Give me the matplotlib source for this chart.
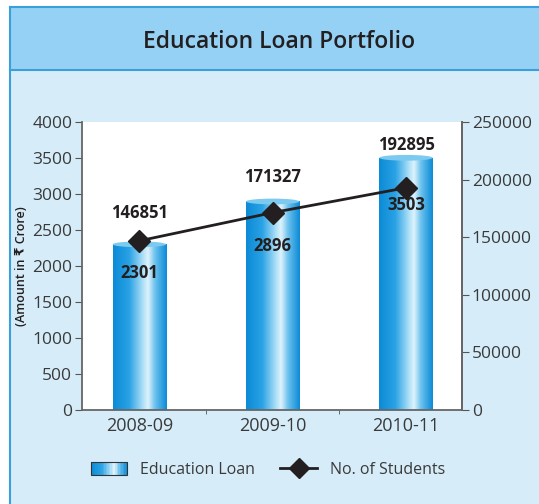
import matplotlib
matplotlib.use("Agg")
import matplotlib.pyplot as plt
import numpy as np
from matplotlib.colors import LinearSegmentedColormap
from matplotlib.patches import Rectangle, Ellipse
from matplotlib.lines import Line2D
from matplotlib.legend_handler import HandlerBase

plt.rcParams['font.family'] = ['Open Sans', 'DejaVu Sans']

# data
years = ['2008-09', '2009-10', '2010-11']
loan_amount = [2301, 2896, 3503]          # Rs crore
students = [146851, 171327, 192895]

# label offsets in points (bar label below top, line label above marker)
bar_lbl_off = [-21, -32, -34]
line_lbl_off = [20, 26, 31]

bg = '#d6edf9'
band = '#94d1f4'
edge = '#3b9fdc'
cyl = LinearSegmentedColormap.from_list('cyl', [
    (0.0, '#0b8ad6'), (0.3, '#2aa2e5'), (0.55, '#a9def7'),
    (0.65, '#dff3fc'), (0.78, '#6cc2ee'), (1.0, '#0b8ad6')])

fig = plt.figure(figsize=(5.39, 5.04), dpi=100)
fig.patch.set_facecolor('white')

# panel background and title band
fig.patches.append(Rectangle((10/539, 0), 1, 497/504, transform=fig.transFigure,
                             facecolor=bg, edgecolor='none', zorder=-3))
fig.patches.append(Rectangle((10/539, 434/504), 1, 63/504, transform=fig.transFigure,
                             facecolor=band, edgecolor='none', zorder=-2))
fig.add_artist(Line2D([10/539, 10/539], [0, 497/504], color=edge, lw=1.5, transform=fig.transFigure))
fig.add_artist(Line2D([10/539, 1], [497/504, 497/504], color=edge, lw=1.5, transform=fig.transFigure))
fig.add_artist(Line2D([10/539, 1], [434/504, 434/504], color=edge, lw=1.5, transform=fig.transFigure))
fig.text(0.518, 462/504, 'Education Loan Portfolio', ha='center', va='center',
         fontsize=16.5, fontweight='semibold', color='#231f20')

ax = fig.add_axes([82/539, 94/504, 380/539, 288/504])
ax.set_facecolor('white')
x = np.arange(len(years))
bars = ax.bar(x, loan_amount, width=0.4, color='none', edgecolor='none', zorder=2)
grad = np.linspace(0, 1, 256).reshape(1, -1)
cap_h = 80
for b in bars:
    x0, w, h = b.get_x(), b.get_width(), b.get_height()
    im = ax.imshow(grad, cmap=cyl, aspect='auto', extent=[x0, x0 + w, 0, h],
                   zorder=2, interpolation='bicubic')
    bot = Ellipse((x0 + w/2, 0), w, cap_h, facecolor='#129ae0', edgecolor='none', zorder=1.9)
    ax.add_patch(bot)
    clip = Rectangle((x0, 0), w, h, transform=ax.transData)
    im.set_clip_path(clip)
    top = Ellipse((x0 + w/2, h), w, cap_h, facecolor='#7ccaf0', edgecolor='none', zorder=3)
    ax.add_patch(top)

ax.set_xlim(-0.43, 2.42)
ax.set_ylim(0, 4000)
ax.set_yticks(range(0, 4001, 500))
ax.set_xticks(x)
ax.set_xticklabels(years, fontsize=13, color='#3a3a3a')
ax.set_xticks([0.5, 1.5], minor=True)
ax.tick_params(axis='x', which='major', length=0, pad=5)
ax.tick_params(axis='x', which='minor', length=3, color='#555555')
ax.tick_params(axis='y', labelsize=12.5, labelcolor='#3a3a3a', length=5, color='#555555', pad=2)
ax.spines['top'].set_visible(False)
for s in ['left', 'bottom', 'right']:
    ax.spines[s].set_color('#666666')
    ax.spines[s].set_linewidth(1.3)
ax.set_ylabel('(Amount in \u20b9 Crore)', fontsize=9, fontweight='semibold', color='#231f20', labelpad=3)

for b, v, off in zip(bars, loan_amount, bar_lbl_off):
    ax.annotate(str(v), (b.get_x() + b.get_width()/2, v), xytext=(0, off),
                textcoords='offset points', ha='center', va='center',
                fontsize=12, fontweight='bold', color='#231f20', zorder=6)

ax2 = ax.twinx()
ax2.plot(x, students, color='#231f20', lw=2, marker='D', markersize=11, zorder=5)
ax2.set_ylim(0, 250000)
ax2.set_yticks(range(0, 250001, 50000))
ax2.tick_params(axis='y', labelsize=12.5, labelcolor='#3a3a3a', length=5, color='#555555', pad=2)
for s in ['top', 'left', 'bottom']:
    ax2.spines[s].set_visible(False)
ax2.spines['right'].set_color('#666666')
ax2.spines['right'].set_linewidth(1.3)
ax2.set_ylabel('No. of Students', fontsize=9, fontweight='semibold', color='#231f20',
               rotation=90, labelpad=6)
for xi, v, off in zip(x, students, line_lbl_off):
    ax2.annotate(str(v), (xi, v), xytext=(0, off), textcoords='offset points',
                 ha='center', va='center', fontsize=12, fontweight='bold', color='#231f20')


class GradHandler(HandlerBase):
    def create_artists(self, legend, orig, xd, yd, width, height, fontsize, trans):
        arts = []
        n = 24
        for i in range(n):
            arts.append(Rectangle((-xd + width*i/n, -yd), width/n + 0.3, height,
                                  facecolor=cyl((i + 0.5)/n), edgecolor='none', transform=trans))
        arts.append(Rectangle((-xd, -yd), width, height, facecolor='none',
                              edgecolor='#333333', lw=0.8, transform=trans))
        return arts


h_bar = Rectangle((0, 0), 1, 1)
h_line = Line2D([], [], color='#231f20', lw=2, marker='D', markersize=10)
fig.legend([h_bar, h_line], ['Education Loan', 'No. of Students'],
           handler_map={h_bar: GradHandler()}, loc='center', bbox_to_anchor=(0.497, 34/504),
           ncol=2, frameon=False, fontsize=11.5, handlelength=2.3, handleheight=0.9,
           columnspacing=1.6, labelcolor='#3a3a3a')

fig.savefig('out.png', dpi=100, facecolor=fig.get_facecolor())
